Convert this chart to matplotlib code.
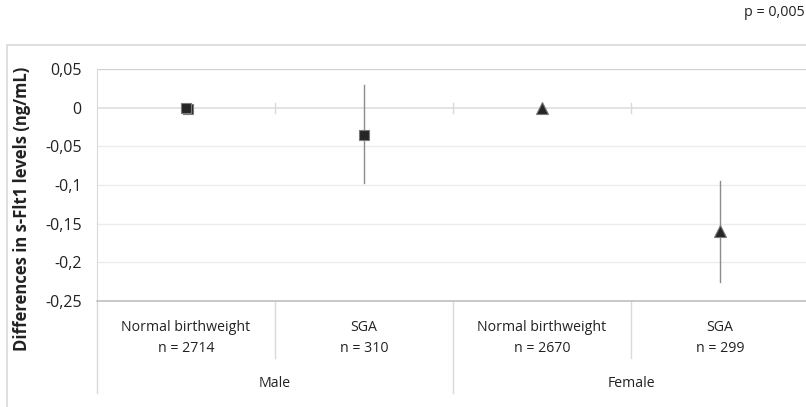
import matplotlib
matplotlib.use("Agg")
import matplotlib.pyplot as plt
import matplotlib.transforms as mtransforms
from matplotlib.patches import Rectangle

# data
groups = ["Male", "Female"]
subgroups = ["Normal birthweight", "SGA", "Normal birthweight", "SGA"]
n_values = [2714, 310, 2670, 299]
means = [0.0, -0.035, 0.0, -0.16]
ci_low = [0.0, -0.098, 0.0, -0.225]
ci_high = [0.0, 0.029, 0.0, -0.095]
markers = ["s", "s", "^", "^"]
y_ticks = [0.05, 0, -0.05, -0.1, -0.15, -0.2, -0.25]
y_tick_labels = ["0,05", "0", "-0,05", "-0,1", "-0,15", "-0,2", "-0,25"]
p_text = "p = 0,005"

W, H = 806, 407
fig = plt.figure(figsize=(W / 100, H / 100), dpi=100)
fig.patch.set_facecolor("white")

# outer chart frame (cut by the image edge)
fig.patches.append(Rectangle((7 / W, -0.2), 1.2, 1.2 - 45 / H, transform=fig.transFigure,
                             fill=False, edgecolor="#d9d9d9", linewidth=1.2))

left, right, top, bottom = 97, 806, 69, 301
ax = fig.add_axes([left / W, 1 - bottom / H, (right - left) / W, (bottom - top) / H])

ncat = len(subgroups)
cat_w = 178.0
ax.set_xlim(0, (right - left) / cat_w)
ax.set_ylim(-0.25, 0.05)

# gridlines
for yv in y_ticks:
    if yv == 0.05:
        ax.axhline(yv, color="#d0d0d0", lw=1.6, zorder=0)
    elif yv == 0:
        ax.axhline(yv, color="#e0e0e0", lw=1.3, zorder=0)
    elif yv != -0.25:
        ax.axhline(yv, color="#ececec", lw=1.0, zorder=0)

# small tick marks on the zero axis at category boundaries
for b in range(1, ncat):
    ax.plot([b, b], [-0.0065, 0.0065], color="#d9d9d9", lw=1.0, zorder=0)

for sp in ["top", "right"]:
    ax.spines[sp].set_visible(False)
ax.spines["left"].set_color("#d9d9d9")
ax.spines["bottom"].set_color("#bfbfbf")
ax.spines["bottom"].set_linewidth(1.2)

ax.set_yticks(y_ticks)
ax.set_yticklabels(y_tick_labels, family=["Open Sans", "DejaVu Sans"], fontsize=11.5, color="#222222")
ax.tick_params(axis="y", length=0, pad=11)
ax.set_xticks([])

# points with error bars
for i in range(ncat):
    xc = i + 0.5
    if ci_high[i] != ci_low[i]:
        ax.plot([xc, xc], [ci_low[i], ci_high[i]], color="#8c8c8c", lw=1.0, zorder=2)
    if i == 0:
        shadow = ax.transData + mtransforms.ScaledTranslation(2 / 100, -1.5 / 100, fig.dpi_scale_trans)
        ax.plot(xc, means[i], marker=markers[i], ms=7.2, color="#262626", mec="#7a7a7a",
                mew=0.8, transform=shadow, zorder=3)
    ms = 7.2 if markers[i] == "s" else 8
    ax.plot(xc, means[i], marker=markers[i], ms=ms, color="#262626", mec="#7a7a7a",
            mew=0.8, zorder=4)

# category labels below the plot
cat_font = ["Liberation Sans Narrow", "Open Sans", "DejaVu Sans"]
ph = bottom - top
def ay(py):
    return -(py - bottom) / ph

trans = mtransforms.blended_transform_factory(ax.transData, ax.transAxes)
for i in range(ncat):
    ax.text(i + 0.5, ay(327.5), subgroups[i], transform=trans, ha="center", va="center",
            fontsize=10.2, family=cat_font, color="#222222")
    ax.text(i + 0.5, ay(348.5), f"n = {n_values[i]}", transform=trans, ha="center", va="center",
            fontsize=10.2, family=cat_font, color="#222222")
for g, name in enumerate(groups):
    ax.text(g * 2 + 1, ay(383.5), name, transform=trans, ha="center", va="center",
            fontsize=10.2, family=cat_font, color="#222222")

# separators
for b in range(0, ncat + 1):
    end = 393 if b % 2 == 0 else 358
    ax.plot([b, b], [0, ay(end)], transform=trans, color="#d9d9d9", lw=1.0, clip_on=False)

fig.text(22 / W, 1 - 209 / H, "Differences in s-Flt1 levels (ng/mL)", rotation=90,
         ha="center", va="center", fontsize=12, fontweight="bold",
         family=["Open Sans", "DejaVu Sans"], color="#222222")
fig.text(805 / W, 1 - 12 / H, p_text, ha="right", va="center", fontsize=10.3,
         family=["Open Sans", "DejaVu Sans"], color="#222222")

fig.savefig("out.png", dpi=100, facecolor="white")
